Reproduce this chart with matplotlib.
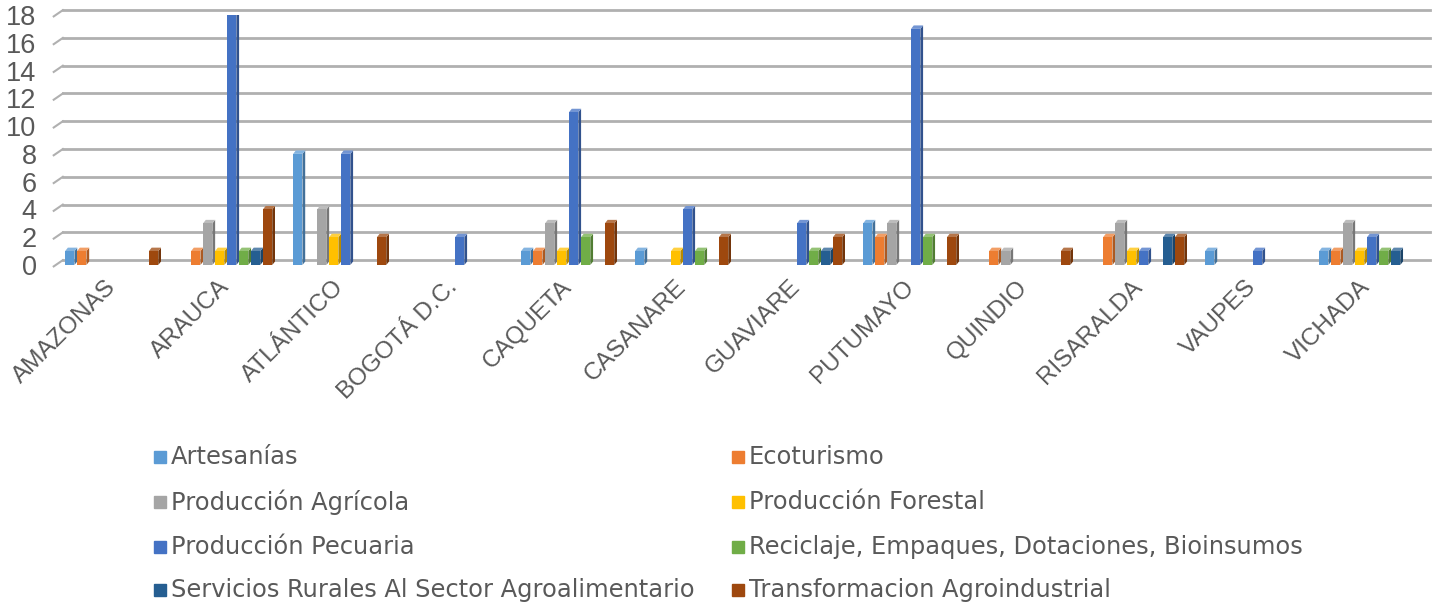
import matplotlib.pyplot as plt
from matplotlib.patches import Rectangle
from matplotlib.transforms import ScaledTranslation
import numpy as np

departamentos = ['AMAZONAS', 'ARAUCA', 'ATLÁNTICO', 'BOGOTÁ D.C.', 'CAQUETA', 'CASANARE',
                 'GUAVIARE', 'PUTUMAYO', 'QUINDIO', 'RISARALDA', 'VAUPES', 'VICHADA']
series = ['Artesanías', 'Ecoturismo', 'Producción Agrícola', 'Producción Forestal',
          'Producción Pecuaria', 'Reciclaje, Empaques, Dotaciones, Bioinsumos',
          'Servicios Rurales Al Sector Agroalimentario', 'Transformacion Agroindustrial']

artesanias     = [1, 0, 8, 0, 1, 1, 0, 3, 0, 0, 1, 1]
ecoturismo     = [1, 1, 0, 0, 1, 0, 0, 2, 1, 2, 0, 1]
agricola       = [0, 3, 4, 0, 3, 0, 0, 3, 1, 3, 0, 3]
forestal       = [0, 1, 2, 0, 1, 1, 0, 0, 0, 1, 0, 1]
pecuaria       = [0, 18, 8, 2, 11, 4, 3, 17, 0, 1, 1, 2]
reciclaje      = [0, 1, 0, 0, 2, 1, 1, 2, 0, 0, 0, 1]
servicios      = [0, 1, 0, 0, 0, 0, 1, 0, 0, 2, 0, 1]
transformacion = [1, 4, 2, 0, 3, 2, 2, 2, 1, 2, 0, 0]

valores = [artesanias, ecoturismo, agricola, forestal, pecuaria, reciclaje, servicios, transformacion]
colores = ['#5B9BD5', '#ED7D31', '#A5A5A5', '#FFC000', '#4472C4', '#70AD47', '#255E91', '#9E480E']


def tono(c, f):
    r, g, b = [int(c[i:i + 2], 16) / 255 for i in (1, 3, 5)]
    if f < 1:
        return (r * f, g * f, b * f)
    k = f - 1
    return (r + (1 - r) * k, g + (1 - g) * k, b + (1 - b) * k)


W, H = 1439, 606
fig = plt.figure(figsize=(W / 100, H / 100), dpi=100)
ax = fig.add_axes([56 / W, 1 - 265 / H, (1424 - 56) / W, (265 - 15) / H])

x = np.arange(len(departamentos))
slot = 0.105
cara = 0.082
dx = 0.024
dy = 0.25

for j, (vals, c) in enumerate(zip(valores, colores)):
    pos = x - 4 * slot + j * slot
    ax.bar(pos, vals, width=cara, align='edge', color=c, zorder=4, linewidth=0)
    for p, v in zip(pos, vals):
        if v <= 0:
            continue
        x0, x1 = p, p + cara
        ax.fill([x1, x1 + dx, x1 + dx, x1], [0, dy, v + dy, v],
                color=tono(c, 0.72), lw=0, zorder=3)
        ax.fill([x0, x1, x1 + dx, x0 + dx], [v, v, v + dy, v + dy],
                color=tono(c, 1.25), lw=0, zorder=3)

ax.set_xlim(-0.5, 11.5)
ax.set_ylim(0, 18)
ax.set_yticks(range(0, 19, 2))
for yv in range(0, 19, 2):
    ax.plot([-0.44, 11.55], [yv + 0.35, yv + 0.35], color='#B0B0B0', lw=2,
            zorder=1, clip_on=False)
    ax.plot([-0.52, -0.44], [yv - 0.1, yv + 0.35], color='#B0B0B0', lw=1.5,
            zorder=1, clip_on=False)

for s in ax.spines.values():
    s.set_visible(False)

ax.set_xticks(x)
ax.set_xticklabels(departamentos, rotation=45, ha='right', va='top',
                   rotation_mode='anchor', fontsize=17.5, color='#595959',
                   family='Liberation Sans')
ax.tick_params(axis='x', length=0, pad=8)
desplazar = ScaledTranslation(-6 / 72, 0, fig.dpi_scale_trans)
for t in ax.get_xticklabels():
    t.set_transform(t.get_transform() + desplazar)
ax.tick_params(axis='y', length=0, pad=14, labelsize=19.5, labelcolor='#595959')
for t in ax.get_yticklabels():
    t.set_family('Liberation Sans')

col_x = [154, 732]
fila_y = [457, 502, 547, 590]
for i, (nombre, c) in enumerate(zip(series, colores)):
    cx = col_x[i % 2]
    cy = fila_y[i // 2]
    fig.patches.append(Rectangle((cx / W, 1 - (cy + 6) / H), 12 / W, 12 / H,
                                 transform=fig.transFigure, color=c))
    fig.text((cx + 17) / W, 1 - cy / H, nombre, fontsize=17.4, color='#595959',
             va='center', ha='left', family='DejaVu Sans')

fig.savefig('out.png', dpi=100)
